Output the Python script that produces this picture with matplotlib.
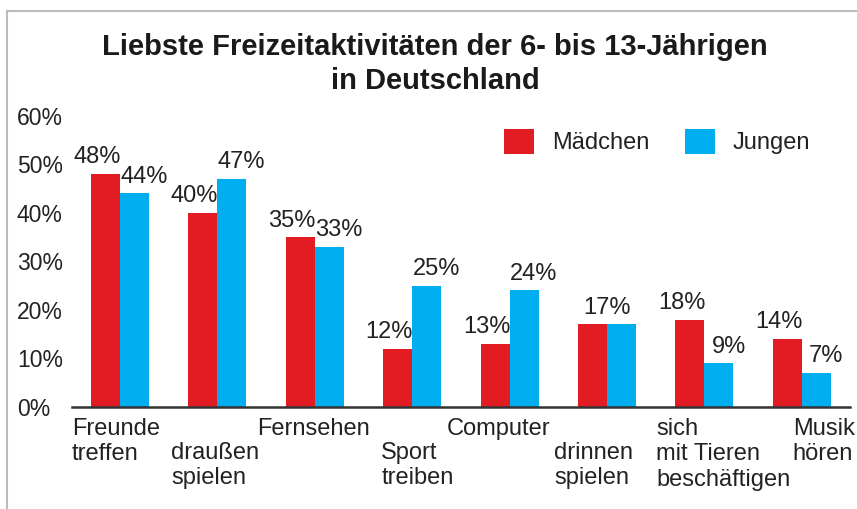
import matplotlib
matplotlib.use("Agg")
import matplotlib.pyplot as plt
import matplotlib.transforms as mtransforms
from matplotlib.patches import Patch
from matplotlib.lines import Line2D
import numpy as np

categories = ["Freunde\ntreffen", "draußen\nspielen", "Fernsehen", "Sport\ntreiben",
              "Computer", "drinnen\nspielen", "sich\nmit Tieren\nbeschäftigen", "Musik\nhören"]
maedchen = [48, 40, 35, 12, 13, 17, 18, 14]
jungen = [44, 47, 33, 25, 24, 17, 9, 7]
y_ticks = [0, 10, 20, 30, 40, 50, 60]
y_ticklabels = ["0%", "10%", "20%", "30%", "40%", "50%", "60%"]
title = "Liebste Freizeitaktivitäten der 6- bis 13-Jährigen\nin Deutschland"

RED = "#E31B23"
BLUE = "#00AEEF"
TXT = "#222222"
FONT = "Liberation Sans"
FS = 17

W, H = 857, 509
fig = plt.figure(figsize=(W / 100, H / 100), dpi=100)
fig.patch.set_facecolor("white")

# border lines
fig.add_artist(Line2D([7 / W, 1], [1 - 11 / H, 1 - 11 / H], color="#bbbbbb", lw=1.5,
                      transform=fig.transFigure))
fig.add_artist(Line2D([7 / W, 7 / W], [0, 1 - 11 / H], color="#bbbbbb", lw=1.5,
                      transform=fig.transFigure))

ax_left, ax_right, ax_bottom, ax_top = 72, 850, 407, 106
ax = fig.add_axes([ax_left / W, (H - ax_bottom) / H, (ax_right - ax_left) / W,
                   (ax_bottom - ax_top) / H])
ax.set_facecolor("none")

x = np.arange(len(categories))
bw = 0.298
ax.bar(x - bw / 2, maedchen, width=bw, color=RED, edgecolor="none")
ax.bar(x + bw / 2, jungen, width=bw, color=BLUE, edgecolor="none")

ax.set_xlim(-0.493, 7.495)
ax.set_ylim(0, 62)

for s in ["top", "right", "left"]:
    ax.spines[s].set_visible(False)
ax.spines["bottom"].set_color("#333333")
ax.spines["bottom"].set_linewidth(1.8)

ax.set_xticks([])
ax.set_yticks(y_ticks)
ax.set_yticklabels(y_ticklabels, fontsize=FS - 0.5, family=FONT, color=TXT, ha="left")
ax.tick_params(axis="y", length=0, pad=(ax_left - 17) * 0.72)

# value labels
for i in range(len(categories)):
    if maedchen[i] == jungen[i]:
        ax.annotate(f"{maedchen[i]}%", (x[i], maedchen[i]), xytext=(0, 4),
                    textcoords="offset points", ha="center", va="bottom",
                    fontsize=FS, family=FONT, color=TXT)
        continue
    ax.annotate(f"{maedchen[i]}%", (x[i] - bw / 2, maedchen[i]), xytext=(-6, 4),
                textcoords="offset points", ha="center", va="bottom",
                fontsize=FS, family=FONT, color=TXT)
    ax.annotate(f"{jungen[i]}%", (x[i] + bw / 2, jungen[i]), xytext=(7, 4),
                textcoords="offset points", ha="center", va="bottom",
                fontsize=FS, family=FONT, color=TXT)

# category labels (left aligned, staggered rows)
label_dx_px = [-48, -46, -58, -31, -63, -53, -48, -9]
label_row = [0, 1, 0, 1, 0, 1, 0, 0]
row_top_px = [418, 442]
trans = mtransforms.blended_transform_factory(ax.transData, fig.transFigure)
for i, cat in enumerate(categories):
    off = mtransforms.ScaledTranslation(label_dx_px[i] / 100, 0, fig.dpi_scale_trans)
    ax.text(x[i], 1 - row_top_px[label_row[i]] / H, cat, transform=trans + off,
            ha="left", va="top", fontsize=FS, family=FONT, color=TXT,
            linespacing=1.2, clip_on=False)

# title
fig.text(435 / W, 1 - 64 / H, title, ha="center", va="center", fontsize=21,
         fontweight="bold", family=FONT, color="#1a1a1a", linespacing=1.3)

# legend
handles = [Patch(facecolor=RED, edgecolor="none", label="Mädchen"),
           Patch(facecolor=BLUE, edgecolor="none", label="Jungen")]
leg = fig.legend(handles=handles, loc="upper left",
                 bbox_to_anchor=(504 / W, 1 - 129 / H), ncol=2, frameon=False,
                 prop={"family": FONT, "size": FS}, handlelength=1.28,
                 handleheight=1.22, handletextpad=0.75, columnspacing=1.5,
                 borderpad=0, borderaxespad=0)
for t in leg.get_texts():
    t.set_color(TXT)

fig.savefig("out.png", dpi=100)
